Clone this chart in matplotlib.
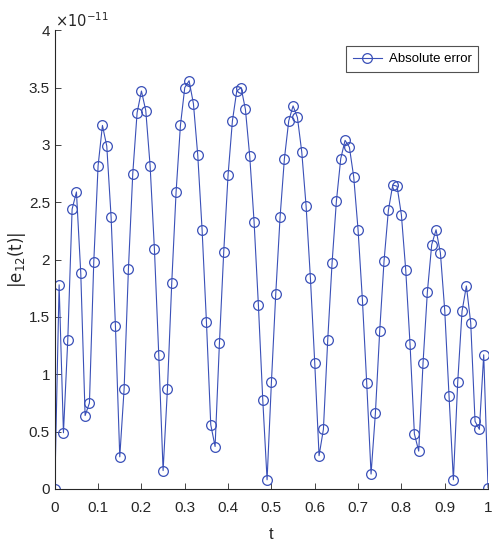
import numpy as np
import matplotlib
matplotlib.use("Agg")
import matplotlib.pyplot as plt
from matplotlib.ticker import FuncFormatter, MultipleLocator

plt.rcParams['font.family'] = ['Liberation Sans', 'DejaVu Sans']

t = np.round(np.arange(0, 101) * 0.01, 2)
err_1e11 = [
    0.00, 1.78, 0.49, 1.30, 2.44, 2.59, 1.88, 0.64, 0.75, 1.98,
    2.82, 3.17, 2.99, 2.37, 1.42, 0.28, 0.87, 1.92, 2.75, 3.28,
    3.47, 3.30, 2.82, 2.09, 1.17, 0.16, 0.87, 1.80, 2.59, 3.17,
    3.50, 3.56, 3.36, 2.91, 2.26, 1.46, 0.56, 0.37, 1.27, 2.07,
    2.74, 3.21, 3.47, 3.50, 3.31, 2.90, 2.33, 1.60, 0.78, 0.08,
    0.93, 1.70, 2.37, 2.88, 3.21, 3.34, 3.24, 2.94, 2.47, 1.84,
    1.10, 0.29, 0.52, 1.30, 1.97, 2.51, 2.88, 3.04, 2.98, 2.72,
    2.26, 1.65, 0.92, 0.13, 0.66, 1.38, 1.99, 2.43, 2.65, 2.64,
    2.39, 1.91, 1.26, 0.48, 0.33, 1.10, 1.72, 2.13, 2.26, 2.06,
    1.56, 0.81, 0.08, 0.93, 1.55, 1.77, 1.45, 0.59, 0.52, 1.17,
    0.01,
]
scale = 1e-11
err = np.array(err_1e11) * scale

color = '#3a50b8'
dark = '#262626'

fig = plt.figure(figsize=(4.98, 5.5), dpi=100)
ax = fig.add_axes([0.110, 0.111, 0.870, 0.834])

ax.plot(t, err, '-o', color=color, linewidth=0.8, markersize=7,
        markerfacecolor='none', markeredgewidth=0.9, label='Absolute error')

ax.set_xlim(0, 1)
ax.set_ylim(0, 4 * scale)
ax.xaxis.set_major_locator(MultipleLocator(0.1))
ax.yaxis.set_major_locator(MultipleLocator(0.5 * scale))
ax.xaxis.set_major_formatter(FuncFormatter(lambda v, p: '%g' % round(v, 2)))
ax.yaxis.set_major_formatter(FuncFormatter(lambda v, p: '%g' % round(v / scale, 2)))
ax.xaxis.get_offset_text().set_visible(False)
ax.yaxis.get_offset_text().set_visible(False)

for s in ['top', 'right']:
    ax.spines[s].set_visible(False)
for s in ['left', 'bottom']:
    ax.spines[s].set_color(dark)
    ax.spines[s].set_linewidth(0.8)
ax.tick_params(direction='in', length=4, width=0.6, labelsize=11, colors=dark)
ax.tick_params(axis='x', pad=9)

ax.text(0.0, 1.0, r'$\times 10^{-11}$', transform=ax.transAxes,
        fontsize=10.5, ha='left', va='bottom', color=dark)

ax.set_xlabel('t', fontsize=12, color=dark, labelpad=8)
ax.set_ylabel(r'$|\mathrm{e}_{12}(\mathrm{t})|$', fontsize=12, color=dark)
ax.yaxis.set_label_coords(-0.062, 0.5)

leg = ax.legend(loc='upper right', bbox_to_anchor=(0.977, 0.965), fontsize=9.5,
                frameon=True, fancybox=False, edgecolor=dark,
                handlelength=2.2, handletextpad=0.5, borderpad=0.5,
                borderaxespad=0)
leg.get_frame().set_linewidth(0.8)

fig.savefig('out.png', dpi=100)
